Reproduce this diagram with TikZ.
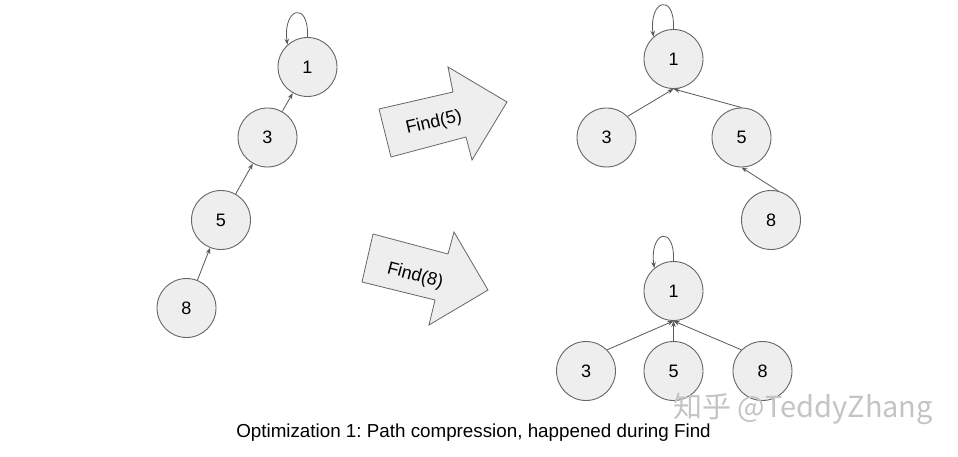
\documentclass[tikz,border=0pt]{standalone}
\usepackage{fontspec}
\setmainfont{Liberation Sans}
\newfontfamily\cjk{Noto Sans CJK SC}
\usetikzlibrary{arrows.meta}
\definecolor{nodefill}{HTML}{EEEEEE}
\definecolor{nodeline}{HTML}{666666}
\definecolor{edgec}{HTML}{595959}
\definecolor{wmcol}{HTML}{C4C4C4}
\frenchspacing
\begin{document}
\begin{tikzpicture}[x=1pt,y=-1pt,
  circ/.style={circle,draw=nodeline,fill=nodefill,line width=0.9pt,minimum size=59pt,inner sep=0pt,font=\fontsize{18}{20}\selectfont},
  link/.style={draw=edgec,line width=0.8pt,-{Stealth[length=6pt,width=4.5pt]}},
  bigarrow/.style={draw=nodeline,fill=nodefill,line width=0.8pt,line join=miter},
  lbl/.style={font=\fontsize{18}{20}\selectfont}]
\useasboundingbox (0,0) rectangle (958,457);
\fill[white] (0,0) rectangle (958,457);

% left chain
\node[circ] (a1) at (307.5,67) {1};
\node[circ] (a3) at (267.5,137.5) {3};
\node[circ] (a5) at (221,220) {5};
\node[circ] (a8) at (186.5,308) {8};
\draw[link] (a1.north) .. controls +(1.5,-37) and +(-5,-37) .. (a1.132);
\draw[link] (a3) -- (a1);
\draw[link] (a5) -- (a3);
\draw[link] (a8) -- (a5);

% big arrows
\path[bigarrow] (379,109) -- (453,92) -- (448,67) -- (507,102) -- (472,160) -- (466,137) -- (391,157) -- cycle;
\node[lbl,rotate=13] (f5) at (434,123) {Find(5)};
\path[bigarrow] (373,234) -- (448,254) -- (454,232) -- (488,290) -- (429,325) -- (435,300) -- (362,282) -- cycle;
\node[lbl,rotate=-15,inner sep=0pt] (f8) at (415,276) {Find(8)};

% top right tree
\node[circ] (b1) at (673.5,59) {1};
\node[circ] (b3) at (606.5,137.5) {3};
\node[circ] (b5) at (741.5,137.5) {5};
\node[circ] (b8) at (771,220) {8};
\draw[link] (b1.north) .. controls +(1.5,-37) and +(-5,-37) .. (b1.132);
\draw[link] (b3.north east) -- (b1.south);
\draw[link] (b5.north) -- (b1.south);
\draw[link] (b8.76) -- (b5.south);

% bottom right tree
\node[circ] (c1) at (673.5,291) {1};
\node[circ] (c3) at (586,371) {3};
\node[circ] (c5) at (673.5,371) {5};
\node[circ] (c8) at (762.5,371) {8};
\draw[link] (c1.north) .. controls +(1.5,-37) and +(-5,-37) .. (c1.130);
\draw[link] (c3.north east) -- (c1.south);
\draw[link] (c5.north) -- (c1.south);
\draw[link] (c8.north west) -- (c1.south);

% caption and watermark
\node[font=\fontsize{18.8}{22}\selectfont] (cap) at (473.5,433) {Optimization 1: Path compression, happened during Find};
\node[font=\cjk\fontsize{29}{32}\selectfont,text=wmcol,anchor=west,inner sep=0pt] (wm) at (673,409) {知乎 @TeddyZhang};
\end{tikzpicture}
\end{document}
